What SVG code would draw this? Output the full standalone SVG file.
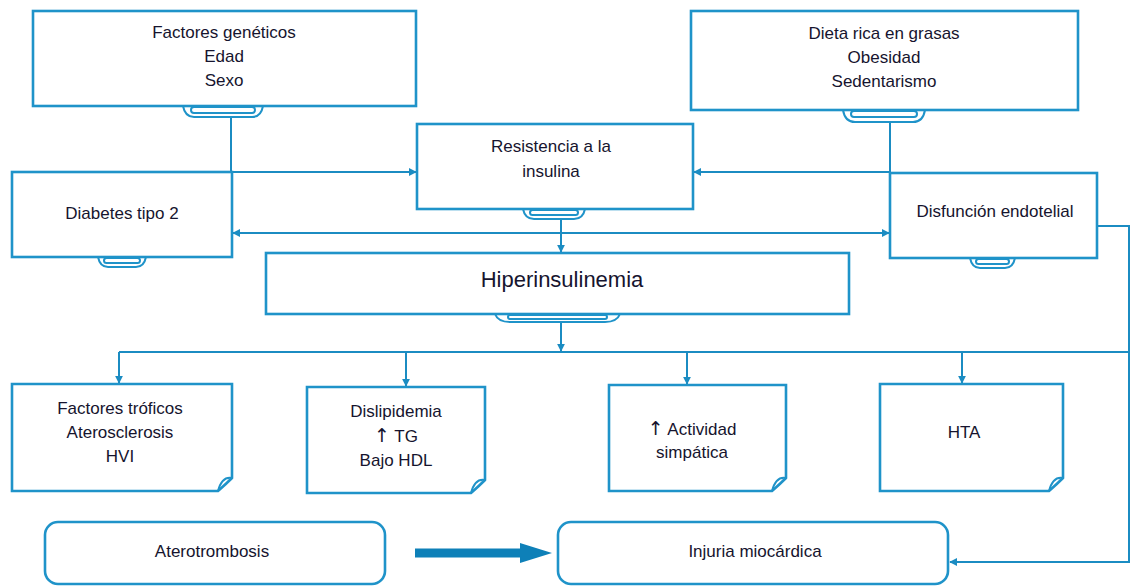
<svg xmlns="http://www.w3.org/2000/svg" width="1134" height="587" viewBox="0 0 1134 587">
<style>
.box{fill:#fff;stroke:#1f93c9;stroke-width:2.6}
.tab{fill:none;stroke:#1f93c9;stroke-width:2}
.ln{fill:none;stroke:#1b8cc2;stroke-width:2}
text{font-family:"Liberation Sans",Arial,sans-serif;font-size:17px;fill:#16142e;text-anchor:middle}
.big{font-size:22px}
.arw{font-family:"DejaVu Sans",sans-serif;font-size:19px}
</style>
<defs>
<marker id="ah" viewBox="0 0 10 10" refX="9" refY="5" markerWidth="4" markerHeight="4" orient="auto" markerUnits="strokeWidth">
<path d="M0 0 L10 5 L0 10 z" fill="#1b8cc2"/>
</marker>
</defs>

<g id="connectors">
<path class="ln" d="M231 117 V172 H416" marker-end="url(#ah)"/>
<path class="ln" d="M890 122 V172 H694" marker-end="url(#ah)"/>
<path class="ln" d="M561 233 H233" marker-end="url(#ah)"/>
<path class="ln" d="M561 233 H889" marker-end="url(#ah)"/>
<path class="ln" d="M561 218 V252" marker-end="url(#ah)"/>
<path class="ln" d="M561 322 V351" marker-end="url(#ah)"/>
<path class="ln" d="M119 352 H1129"/>
<path class="ln" d="M119 352 V383" marker-end="url(#ah)"/>
<path class="ln" d="M406 352 V386" marker-end="url(#ah)"/>
<path class="ln" d="M687 352 V384" marker-end="url(#ah)"/>
<path class="ln" d="M962 352 V383" marker-end="url(#ah)"/>
<path class="ln" d="M1097 226 H1129 V562 H950" marker-end="url(#ah)"/>
<path d="M415 548.5 H520 V543 L552 553 L520 563 V557.5 H415 z" fill="#0e80b8"/>
</g>

<g id="factores-geneticos">
<path class="tab" d="M183 106 Q185 117 194 117 H252 Q261 117 263 106"/>
<rect class="tab" x="191" y="107" width="64" height="6" rx="3"/>
<rect class="box" x="33" y="11" width="383" height="95"/>
<text x="224" y="38">Factores genéticos</text>
<text x="224" y="62">Edad</text>
<text x="224" y="86">Sexo</text>
</g>

<g id="dieta">
<path class="tab" d="M843 110 Q845 122 855 122 H913 Q923 122 925 110"/>
<rect class="tab" x="851" y="111" width="66" height="6" rx="3"/>
<rect class="box" x="691" y="11" width="387" height="99"/>
<text x="884" y="39">Dieta rica en grasas</text>
<text x="884" y="63">Obesidad</text>
<text x="884" y="87">Sedentarismo</text>
</g>

<g id="resistencia">
<path class="tab" d="M523 209 Q525 219 534 219 H574 Q583 219 585 209"/>
<rect class="tab" x="530" y="210" width="48" height="5" rx="2.5"/>
<rect class="box" x="417" y="124" width="276" height="85"/>
<text x="551" y="152">Resistencia a la</text>
<text x="551" y="177">insulina</text>
</g>

<g id="diabetes">
<path class="tab" d="M98 257 Q100 267 108 267 H136 Q144 267 146 257"/>
<rect class="tab" x="104" y="258" width="36" height="5" rx="2.5"/>
<rect class="box" x="12" y="172" width="220" height="85"/>
<text x="122" y="219">Diabetes tipo 2</text>
</g>

<g id="disfuncion">
<path class="tab" d="M970 258 Q972 268 980 268 H1005 Q1013 268 1015 258"/>
<rect class="tab" x="976" y="259" width="33" height="5" rx="2.5"/>
<rect class="box" x="890" y="173" width="207" height="85"/>
<text x="995" y="217">Disfunción endotelial</text>
</g>

<g id="hiperinsulinemia">
<path class="tab" d="M495 314 Q498 322 510 322 H605 Q617 322 620 314"/>
<rect class="tab" x="508" y="315" width="99" height="4" rx="2"/>
<rect class="box" x="266" y="253" width="583" height="61"/>
<text class="big" x="562" y="287">Hiperinsulinemia</text>
</g>

<g id="factores-troficos">
<path class="box" d="M12 384 H232 V478 Q226 484 218 491 H12 z"/>
<path class="tab" d="M232 478 Q222 476 218 491"/>
<text x="120" y="414">Factores tróficos</text>
<text x="120" y="438">Aterosclerosis</text>
<text x="120" y="462">HVI</text>
</g>

<g id="dislipidemia">
<path class="box" d="M307 387 H485 V480 Q479 486 471 493 H307 z"/>
<path class="tab" d="M485 480 Q475 478 471 493"/>
<text x="396" y="417">Dislipidemia</text>
<text x="396" y="442"><tspan class="arw">↑</tspan> TG</text>
<text x="396" y="466">Bajo HDL</text>
</g>

<g id="actividad">
<path class="box" d="M609 385 H786 V478 Q780 484 772 491 H609 z"/>
<path class="tab" d="M786 478 Q776 476 772 491"/>
<text x="692" y="435"><tspan class="arw">↑</tspan> Actividad</text>
<text x="692" y="458">simpática</text>
</g>

<g id="hta">
<path class="box" d="M880 384 H1063 V478 Q1057 484 1049 491 H880 z"/>
<path class="tab" d="M1063 478 Q1053 476 1049 491"/>
<text x="964" y="438">HTA</text>
</g>

<g id="aterotrombosis">
<rect class="box" x="45" y="522" width="340" height="62" rx="13"/>
<text x="212" y="557">Aterotrombosis</text>
</g>

<g id="injuria">
<rect class="box" x="558" y="522" width="390" height="62" rx="13"/>
<text x="755" y="557">Injuria miocárdica</text>
</g>
</svg>
